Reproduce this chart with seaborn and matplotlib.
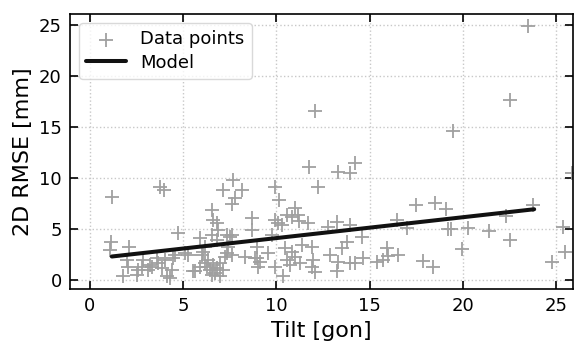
import matplotlib
matplotlib.use("Agg")
import matplotlib.pyplot as plt
import numpy as np
import pandas as pd
import seaborn as sns

sns.set_style("ticks")
plt.rcParams['font.family'] = ['DejaVu Sans']
plt.rcParams['text.color'] = 'black'
plt.rcParams['axes.labelcolor'] = 'black'
plt.rcParams['xtick.color'] = 'black'
plt.rcParams['ytick.color'] = 'black'
plt.rcParams['axes.edgecolor'] = 'black'

# tilt [gon] and 2D RMSE [mm]
tilt = [1.19, 3.78, 4.0, 4.72, 1.13, 1.1, 2.12, 1.99, 2.08, 1.81, 2.61, 2.53,
        2.88, 3.15, 3.33, 3.6, 3.69, 3.87, 4.04, 4.13, 4.4, 4.31, 4.49, 4.58,
        5.11, 5.29, 5.56, 3.24, 2.8,
        5.92, 6.1, 6.36, 6.28, 6.45, 6.54, 6.63, 6.81, 6.99, 7.17, 7.26, 7.43,
        7.62, 8.33, 6.54, 6.63, 6.8, 6.9, 6.54, 6.81, 7.35, 7.62, 7.17, 7.7,
        8.15, 7.79, 7.62, 6.19, 7.53, 6.0, 7.35, 5.65, 6.7, 7.0, 6.2, 5.9,
        9.94, 10.17, 8.69, 8.69, 9.94, 10.11, 10.3, 9.76, 10.56, 8.96, 8.96,
        9.13, 9.58, 9.04, 9.94, 10.38, 10.47, 10.56, 8.87,
        11.0, 11.18, 10.83, 11.72, 12.79, 13.24, 13.95, 14.58, 11.37, 11.9,
        13.51, 13.77, 10.83, 11.0, 10.74, 11.27, 11.99, 11.9, 12.08, 12.88,
        13.24, 13.33, 13.95, 14.22, 14.67, 15.38, 15.74, 11.76, 12.26, 13.33,
        13.95, 14.22, 12.08, 11.2,
        16.45, 16.99, 15.92, 16.0, 16.54, 17.49, 18.5, 19.1, 19.22, 19.35,
        20.29, 17.88, 18.38, 19.94, 19.49, 22.52, 23.5, 25.83, 23.74, 22.31,
        25.38, 25.47, 24.76, 22.52, 21.42]
rmse = [8.1, 9.15, 8.8, 4.55, 3.76, 2.94, 3.27, 1.96, 1.3, 0.4, 0.98, 0.49,
        1.96, 0.98, 1.3, 2.12, 1.63, 1.14, 1.96, 0.33, 0.98, 0.2, 2.12, 2.45,
        2.61, 2.45, 0.9, 1.5, 1.3,
        4.09, 2.78, 1.96, 1.3, 0.98, 0.49, 1.47, 1.14, 1.63, 0.98, 2.29, 3.27,
        2.45, 2.29, 6.86, 5.88, 5.6, 4.9, 4.41, 3.92, 4.41, 4.41, 8.82, 9.8,
        8.82, 8.0, 7.4, 3.27, 4.25, 2.45, 2.61, 0.82, 0.7, 0.4, 1.7, 1.3,
        9.15, 7.84, 6.05, 4.9, 5.88, 5.56, 5.39, 4.41, 6.37, 3.27, 2.12,
        1.8, 2.61, 1.3, 1.3, 0.33, 3.1, 1.96, 2.12,
        7.03, 6.37, 6.2, 5.56, 5.23, 5.72, 5.39, 4.25, 3.43, 3.27,
        3.1, 3.76, 2.78, 2.29, 1.47, 1.63, 1.96, 1.3, 0.75, 2.45,
        0.82, 1.8, 1.63, 1.7, 2.12, 1.8, 1.96, 11.1, 9.15, 10.6,
        10.46, 11.44, 16.6, 5.8,
        5.9, 5.07, 3.1, 2.35, 2.4, 7.35, 7.52, 6.93, 4.97, 4.97,
        5.07, 1.85, 1.24, 3.0, 14.6, 17.7, 24.9, 10.5, 7.35, 6.27,
        5.17, 2.78, 1.8, 3.92, 4.84]

# fitted model, end points
model_tilt = [1.19, 23.82]
model_rmse = [2.29, 6.93]

df = pd.DataFrame({'tilt': tilt, 'rmse': rmse})
df_model = pd.DataFrame({'tilt': model_tilt, 'rmse': model_rmse})

fig, ax = plt.subplots(figsize=(5.74, 3.46), dpi=100)
fig.subplots_adjust(left=70 / 574, right=573 / 574, top=1 - 14 / 346, bottom=1 - 289 / 346)

sns.scatterplot(data=df, x='tilt', y='rmse', marker='+', s=110, color='#a0a0a0',
                linewidth=1.3, label='Data points', ax=ax, zorder=2)
sns.lineplot(data=df_model, x='tilt', y='rmse', color='#111111', linewidth=2.9,
             label='Model', ax=ax, zorder=3)

ax.set_xlim(-1.05, 25.9)
ax.set_ylim(-0.9, 26.1)
ax.set_xticks([0, 5, 10, 15, 20, 25])
ax.set_yticks([0, 5, 10, 15, 20, 25])
ax.grid(True, linestyle=':', color='#c8c8c8', linewidth=1.0)
ax.set_axisbelow(True)
ax.tick_params(direction='in', top=True, right=True, length=6, width=1.2,
               labelsize=13, pad=6)
for s in ax.spines.values():
    s.set_linewidth(1.2)

ax.set_xlabel('Tilt [gon]', fontsize=16)
ax.set_ylabel('2D RMSE [mm]', fontsize=16)

leg = ax.legend(loc='upper left', fontsize=13, frameon=True, borderpad=0.4,
                handlelength=2.2, labelspacing=0.3)
leg.get_frame().set_edgecolor('#d0d0d0')

fig.savefig('out.png', dpi=100)
